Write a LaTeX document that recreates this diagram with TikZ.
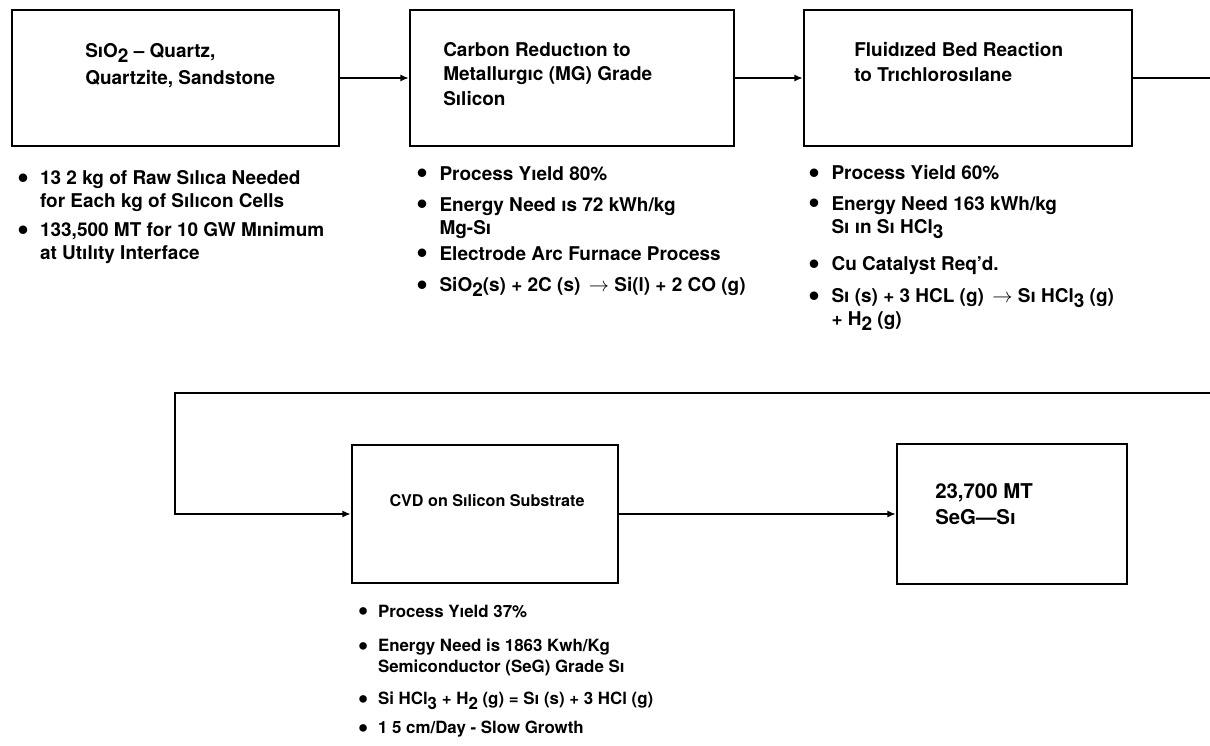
\documentclass[tikz,border=0pt]{standalone}
\usepackage{fontspec}
\setmainfont{TeX Gyre Heros}
\usetikzlibrary{arrows.meta}
\newcommand\dn[1]{\raisebox{-.5ex}{#1}}
\newcommand\bul{\makebox[1.2em][l]{\raisebox{-.2em}[0pt][0pt]{\scalebox{1.8}{\textbullet}}}}
\newcommand\hang{\hspace*{1.2em}}

\begin{document}
\begin{tikzpicture}[x=0.025cm, y=-0.025cm,
    box/.style={draw, line width=1.6pt, inner sep=0pt},
    big/.style={font=\fontsize{13.5}{16.5}\selectfont\bfseries},
    small/.style={font=\fontsize{12}{14.5}\selectfont\bfseries},
    txt/.style={anchor=north west, align=left, inner sep=0pt},
    link/.style={line width=1.6pt, -{Latex[length=6pt,width=5pt]}},
    wire/.style={line width=1.6pt}]
    \useasboundingbox (0,0) rectangle (1210,745);

    \node[box, minimum width=8.18cm, minimum height=3.4cm] (quartz) at (175.5,78) {};
    \node[box, minimum width=8.1cm, minimum height=3.4cm] (mgsi) at (572,78) {};
    \node[box, minimum width=8.2cm, minimum height=3.4cm] (tcs) at (968,78) {};
    \node[box, minimum width=6.65cm, minimum height=3.45cm] (cvd) at (485,514) {};
    \node[box, minimum width=5.75cm, minimum height=3.5cm] (seg) at (1012,514) {};

    \node[txt, big] (quartztxt) at (85,43) {SıO\dn{2} -- Quartz,\\[3pt]Quartzite, Sandstone};
    \node[txt, big, font=\fontsize{13.5}{17.5}\selectfont\bfseries] (mgsitxt) at (443,42) {Carbon Reductıon to\\Metallurgıc (MG) Grade\\Sılicon};
    \node[txt, big, font=\fontsize{13.5}{17.5}\selectfont\bfseries] (tcstxt) at (854,42) {Fluidızed Bed Reaction\\to Trıchlorosılane};
    \node[small, font=\fontsize{11.5}{14}\selectfont\bfseries] (cvdtxt) at (487,501) {CVD on Sılicon Substrate};
    \node[txt, font=\fontsize{14.5}{19}\selectfont\bfseries] (segtxt) at (935,483) {23,700 MT\\SeG---Sı};

    \node[txt, big] (qa) at (17,170) {\bul 13 2 kg of Raw Sılıca Needed\\\hang for Each kg of Sılıcon Cells};
    \node[txt, big] (qb) at (17,222) {\bul 133,500 MT for 10 GW Mınimum\\\hang at Utılıty Interface};

    \node[txt, big] (ma) at (416.5,166) {\bul Process Yıeld 80\%};
    \node[txt, big] (mb) at (416.5,197) {\bul Energy Need ıs 72 kWh/kg\\\hang Mg-Sı};
    \node[txt, big] (mc) at (416.5,246) {\bul Electrode Arc Furnace Process};
    \node[txt, big] (md) at (416.5,277) {\bul SiO\dn{2}(s) + 2C (s) \,$\rightarrow$ Si(l) + 2 CO (g)};

    \node[txt, big] (ta) at (808.5,165) {\bul Process Yield 60\%};
    \node[txt, big] (tb) at (808.5,196) {\bul Energy Need 163 kWh/kg\\\hang Sı ın Sı HCl\dn{3}};
    \node[txt, big] (tc) at (808.5,256) {\bul Cu Catalyst Req’d.};
    \node[txt, big] (td) at (808.5,288) {\bul Sı (s) + 3 HCL (g) \,$\rightarrow$ Sı HCl\dn{3} (g)\\\hang + H\dn{2} (g)};

    \node[txt, small] (ca) at (357.5,605) {\bul Process Yıeld 37\%};
    \node[txt, small] (cb) at (357.5,639) {\bul Energy Need is 1863 Kwh/Kg\\\hang Semiconductor (SeG) Grade Sı};
    \node[txt, small] (cc) at (357.5,692) {\bul Si HCl\dn{3} + H\dn{2} (g) = Sı (s) + 3 HCl (g)};
    \node[txt, small] (cd) at (357.5,721) {\bul 1 5 cm/Day - Slow Growth};

    \coordinate (out) at (1210,78);
    \coordinate (back) at (1210,393);
    \coordinate (turn) at (175,393);
    \draw[link] (quartz) -- (mgsi);
    \draw[link] (mgsi) -- (tcs);
    \draw[wire] (tcs) -- (out);
    \draw[link] (back) -- (turn) |- (cvd);
    \draw[link] (cvd) -- (seg);
\end{tikzpicture}
\end{document}
